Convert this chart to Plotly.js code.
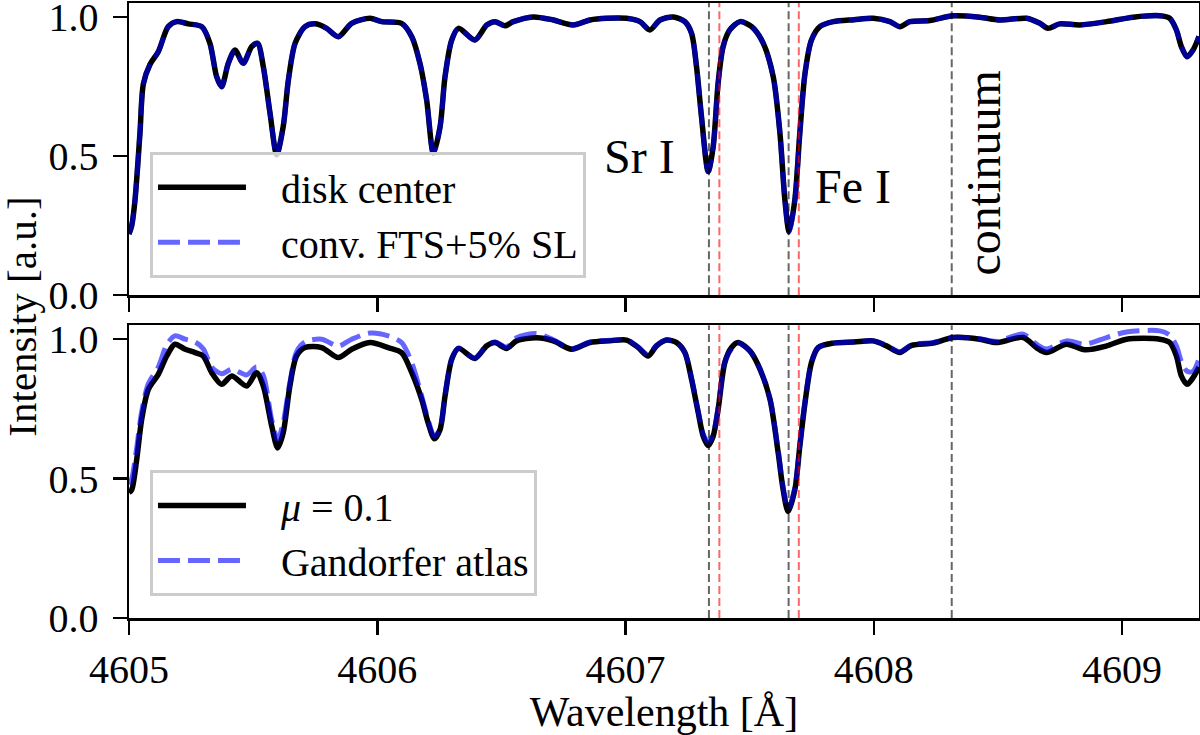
<!DOCTYPE html>
<html>
<head>
<meta charset="utf-8">
<script src="https://cdn.plot.ly/plotly-3.0.1.min.js"></script>
<style>
  html, body { margin: 0; padding: 0; background: #fff; }
  #chart { width: 1200px; height: 735px; }
</style>
</head>
<body>
<div id="chart"></div>
<script>
// wavelengths [Å] and intensities
const topWl = [4605.0, 4605.011, 4605.024, 4605.044, 4605.058, 4605.085, 4605.118, 4605.158, 4605.192, 4605.239,
  4605.293, 4605.326, 4605.353, 4605.373, 4605.4, 4605.427, 4605.46, 4605.494, 4605.518, 4605.541,
  4605.568, 4605.595, 4605.621, 4605.642, 4605.669, 4605.709, 4605.749, 4605.796, 4605.843, 4605.897,
  4605.971, 4606.018, 4606.098, 4606.139, 4606.172, 4606.199, 4606.226, 4606.253, 4606.273, 4606.3,
  4606.327, 4606.393, 4606.441, 4606.474, 4606.514, 4606.548, 4606.628, 4606.709, 4606.789, 4606.857,
  4606.924, 4607.004, 4607.058, 4607.098, 4607.139, 4607.192, 4607.239, 4607.266, 4607.286, 4607.306,
  4607.333, 4607.353, 4607.373, 4607.393, 4607.42, 4607.461, 4607.508, 4607.555, 4607.595, 4607.622,
  4607.642, 4607.659, 4607.682, 4607.702, 4607.723, 4607.749, 4607.783, 4607.837, 4607.92, 4607.998,
  4608.065, 4608.105, 4608.145, 4608.226, 4608.32, 4608.427, 4608.508, 4608.615, 4608.669, 4608.702,
  4608.749, 4608.83, 4608.938, 4609.045, 4609.152, 4609.192, 4609.219, 4609.239, 4609.262, 4609.286, 4609.31];

const diskCenter = [0.22, 0.25, 0.34, 0.58, 0.76, 0.83, 0.875, 0.965, 0.983, 0.975,
  0.965, 0.905, 0.785, 0.749, 0.833, 0.881, 0.833, 0.893, 0.905, 0.821,
  0.654, 0.505, 0.605, 0.773, 0.905, 0.965, 0.975, 0.959, 0.929, 0.977,
  0.995, 0.983, 0.977, 0.929, 0.833, 0.701, 0.51, 0.605, 0.785, 0.917,
  0.959, 0.917, 0.971, 0.983, 0.968, 0.983, 1.0, 0.989, 0.971, 0.989,
  0.995, 0.995, 0.983, 0.953, 0.989, 1.0, 0.983, 0.941, 0.821, 0.641,
  0.444, 0.533, 0.762, 0.893, 0.953, 0.983, 0.965, 0.905, 0.785, 0.582,
  0.342, 0.228, 0.342, 0.582, 0.797, 0.917, 0.965, 0.983, 0.99, 0.995,
  0.983, 0.965, 0.983, 0.987, 1.004, 0.999, 0.989, 0.995, 0.977, 0.959,
  0.975, 0.971, 0.983, 0.999, 1.004, 0.995, 0.953, 0.893, 0.857, 0.881, 0.93];

const convFts = [0.22, 0.25, 0.34, 0.58, 0.76, 0.83, 0.875, 0.965, 0.983, 0.975,
  0.965, 0.905, 0.785, 0.749, 0.833, 0.881, 0.833, 0.893, 0.905, 0.821,
  0.654, 0.505, 0.605, 0.773, 0.905, 0.965, 0.975, 0.959, 0.929, 0.977,
  0.995, 0.983, 0.977, 0.929, 0.833, 0.701, 0.51, 0.605, 0.785, 0.917,
  0.959, 0.917, 0.971, 0.983, 0.968, 0.983, 1.0, 0.989, 0.971, 0.989,
  0.995, 0.995, 0.983, 0.953, 0.989, 1.0, 0.983, 0.941, 0.821, 0.641,
  0.444, 0.533, 0.762, 0.893, 0.953, 0.983, 0.965, 0.905, 0.785, 0.582,
  0.342, 0.228, 0.342, 0.582, 0.797, 0.917, 0.965, 0.983, 0.99, 0.995,
  0.983, 0.965, 0.983, 0.987, 1.004, 0.999, 0.989, 0.995, 0.977, 0.959,
  0.975, 0.971, 0.983, 0.999, 1.004, 0.995, 0.953, 0.893, 0.857, 0.881, 0.93];

const botWl = [4605.0, 4605.011, 4605.031, 4605.051, 4605.078, 4605.118, 4605.152, 4605.185, 4605.226, 4605.266,
  4605.299, 4605.333, 4605.373, 4605.414, 4605.474, 4605.514, 4605.541, 4605.575, 4605.599, 4605.621,
  4605.648, 4605.675, 4605.709, 4605.776, 4605.843, 4605.897, 4605.971, 4606.044, 4606.098, 4606.139,
  4606.179, 4606.205, 4606.23, 4606.253, 4606.273, 4606.3, 4606.327, 4606.393, 4606.441, 4606.474,
  4606.521, 4606.561, 4606.642, 4606.709, 4606.783, 4606.857, 4606.937, 4607.004, 4607.051, 4607.091,
  4607.125, 4607.165, 4607.206, 4607.239, 4607.266, 4607.293, 4607.313, 4607.333, 4607.353, 4607.373,
  4607.4, 4607.427, 4607.453, 4607.501, 4607.542, 4607.582, 4607.615, 4607.635, 4607.655, 4607.682,
  4607.702, 4607.723, 4607.749, 4607.776, 4607.837, 4607.92, 4607.998, 4608.051, 4608.105, 4608.152,
  4608.239, 4608.32, 4608.427, 4608.494, 4608.602, 4608.655, 4608.696, 4608.776, 4608.85, 4608.938,
  4609.018, 4609.152, 4609.192, 4609.219, 4609.239, 4609.262, 4609.286, 4609.31];

const mu01 = [0.45, 0.46, 0.568, 0.712, 0.82, 0.874, 0.94, 0.982, 0.964, 0.952,
  0.94, 0.88, 0.838, 0.868, 0.832, 0.88, 0.832, 0.688, 0.61, 0.664,
  0.832, 0.94, 0.97, 0.97, 0.934, 0.964, 0.988, 0.97, 0.952, 0.88,
  0.784, 0.7, 0.643, 0.676, 0.796, 0.928, 0.967, 0.931, 0.976, 0.988,
  0.967, 0.994, 1.005, 0.994, 0.964, 0.988, 0.994, 0.997, 0.97, 0.94,
  0.976, 0.997, 0.988, 0.952, 0.856, 0.736, 0.652, 0.619, 0.652, 0.748,
  0.916, 0.97, 0.988, 0.958, 0.892, 0.784, 0.592, 0.46, 0.382, 0.46,
  0.616, 0.772, 0.916, 0.97, 0.986, 0.99, 0.994, 0.976, 0.952, 0.978,
  0.986, 1.006, 1.0, 0.988, 1.006, 0.97, 0.952, 0.982, 0.962, 0.976,
  1.0, 1.0, 0.988, 0.94, 0.868, 0.838, 0.862, 0.9];

const gandorfer = [0.48, 0.5, 0.61, 0.74, 0.84, 0.9, 0.98, 1.012, 1.0, 0.99,
  0.966, 0.9, 0.876, 0.892, 0.872, 0.9, 0.87, 0.71, 0.64, 0.7,
  0.844, 0.955, 0.99, 1.0, 0.975, 1.0, 1.022, 1.012, 0.988, 0.915,
  0.796, 0.71, 0.652, 0.68, 0.8, 0.93, 0.968, 0.932, 0.978, 0.99,
  0.972, 1.005, 1.02, 0.998, 0.966, 0.99, 0.996, 0.998, 0.972, 0.945,
  0.978, 0.997, 0.988, 0.952, 0.86, 0.74, 0.66, 0.63, 0.66, 0.755,
  0.92, 0.965, 0.985, 0.958, 0.892, 0.786, 0.6, 0.468, 0.39, 0.468,
  0.62, 0.776, 0.918, 0.97, 0.986, 0.99, 0.994, 0.978, 0.955, 0.98,
  0.988, 1.006, 1.002, 0.992, 1.018, 0.982, 0.965, 0.994, 0.982, 1.006,
  1.026, 1.03, 1.015, 0.976, 0.92, 0.885, 0.885, 0.93];

// line positions [Å]
const grayLines = [4607.336, 4607.657, 4608.314];
const redLines = [4607.378, 4607.698];

const xTicks = [4605, 4606, 4607, 4608, 4609];
const yTicks = [0, 0.5, 1.0];
const yTickText = ['0.0', '0.5', '1.0'];

const labels = [
  { text: 'Sr I', x: 4607.058, y: 0.5, angle: 0 },
  { text: 'Fe I', x: 4607.916, y: 0.39, angle: 0 },
  { text: 'continuum', x: 4608.443, y: 0.44, angle: -90 }
];

const FONT = '"Liberation Serif", "Times New Roman", serif';
const blue = 'rgba(0,0,255,0.6)';
const GAP = '\u00a0\u00a0\u00a0'; // room between legend line and its label

const traces = [
  { x: topWl, y: diskCenter, xaxis: 'x', yaxis: 'y', name: GAP + 'disk center', legend: 'legend',
    mode: 'lines', line: { color: '#000', width: 5.5, shape: 'spline', smoothing: 0.8 } },
  { x: topWl, y: convFts, xaxis: 'x', yaxis: 'y', name: GAP + 'conv. FTS+5% SL', legend: 'legend',
    mode: 'lines', line: { color: blue, width: 5, dash: '22px,8px', shape: 'spline', smoothing: 0.8 } },
  { x: botWl, y: mu01, xaxis: 'x2', yaxis: 'y2', name: GAP + '<i>μ</i> = 0.1', legend: 'legend2',
    mode: 'lines', line: { color: '#000', width: 5.5, shape: 'spline', smoothing: 0.8 } },
  { x: botWl, y: gandorfer, xaxis: 'x2', yaxis: 'y2', name: GAP + 'Gandorfer atlas', legend: 'legend2',
    mode: 'lines', line: { color: blue, width: 5, dash: '22px,8px', shape: 'spline', smoothing: 0.8 } }
];

const shapes = [];
[['x', 'y domain'], ['x2', 'y2 domain']].forEach(([xr, yr]) => {
  grayLines.forEach(w => shapes.push({ type: 'line', xref: xr, yref: yr, x0: w, x1: w, y0: 0, y1: 1,
    layer: 'above', line: { color: 'rgba(0,0,0,0.6)', width: 2, dash: '8px,4px' } }));
  redLines.forEach(w => shapes.push({ type: 'line', xref: xr, yref: yr, x0: w, x1: w, y0: 0, y1: 1,
    layer: 'above', line: { color: 'rgba(255,0,0,0.6)', width: 2, dash: '8px,4px' } }));
});

const annotations = labels.map(l => ({
  xref: 'x', yref: 'y', x: l.x, y: l.y, text: l.text, showarrow: false, textangle: l.angle,
  xanchor: 'center', yanchor: 'middle', font: { family: FONT, size: 48, color: '#000' }
}));
annotations.push({
  xref: 'paper', yref: 'paper', x: -0.1, y: 0.49, text: 'Intensity [a.u.]', showarrow: false,
  textangle: -90, xanchor: 'center', yanchor: 'middle', font: { family: FONT, size: 41, color: '#000' }
});

const axisCommon = {
  showline: true, mirror: true, linecolor: '#000', linewidth: 2.5,
  ticks: 'outside', ticklen: 14, tickwidth: 2.5, tickcolor: '#000',
  showgrid: false, zeroline: false, ticklabeloverflow: 'allow',
  tickfont: { family: FONT, size: 40, color: '#000' }
};

const legendCommon = {
  xanchor: 'left', yanchor: 'top', x: 0.0196,
  bgcolor: 'rgba(255,255,255,0.8)', bordercolor: '#cccccc', borderwidth: 3,
  font: { family: FONT, size: 40, color: '#000' }, itemwidth: 88
};

const layout = {
  width: 1200, height: 735,
  margin: { l: 129, r: 1, t: 3, b: 117 },
  paper_bgcolor: '#fff', plot_bgcolor: '#fff',
  font: { family: FONT, color: '#000' },
  xaxis: Object.assign({}, axisCommon, { domain: [0, 1], anchor: 'y', range: [4605, 4609.31],
    tickvals: xTicks, showticklabels: false, matches: 'x2' }),
  yaxis: Object.assign({}, axisCommon, { domain: [0.525, 1], anchor: 'x', range: [0, 1.05],
    tickvals: yTicks, ticktext: yTickText, ticklabelstandoff: 6 }),
  xaxis2: Object.assign({}, axisCommon, { domain: [0, 1], anchor: 'y2', range: [4605, 4609.31],
    tickvals: xTicks, title: { text: 'Wavelength [Å]', font: { family: FONT, size: 42, color: '#000' }, standoff: 4 } }),
  yaxis2: Object.assign({}, axisCommon, { domain: [0, 0.476], anchor: 'x2', range: [0, 1.05],
    tickvals: yTicks, ticktext: yTickText, ticklabelstandoff: 6 }),
  legend: Object.assign({}, legendCommon, { y: 0.758 }),
  legend2: Object.assign({}, legendCommon, { y: 0.2407 }),
  shapes: shapes,
  annotations: annotations
};

Plotly.newPlot('chart', traces, layout, { displayModeBar: false, staticPlot: true });
</script>
</body>
</html>
